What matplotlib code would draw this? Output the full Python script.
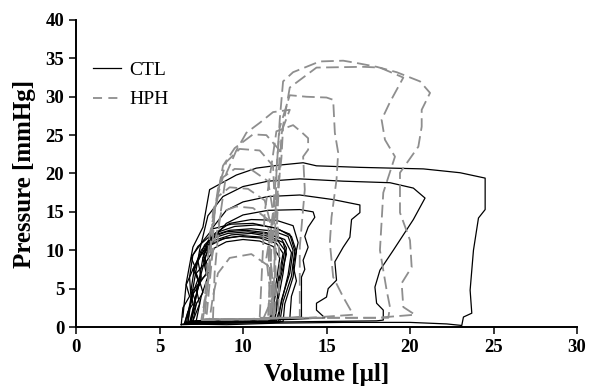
import matplotlib
matplotlib.use("Agg")
import matplotlib.pyplot as plt
from matplotlib.lines import Line2D

# ---------------- data ----------------
# CTL loops (volume [ul], pressure [mmHg])
ctl1_v = [6.4, 9, 12, 16, 20, 22.2, 23.1, 23.2, 23.7, 23.6, 23.8, 24.1, 24.5, 24.5, 23.0, 20.8, 17, 14.4, 13.6, 12.2, 10.8, 9.6, 8.0, 7.6, 7.0, 6.6, 6.4]
ctl1_p = [0.4, 0.3, 0.5, 0.6, 0.6, 0.4, 0.2, 1.3, 1.8, 4.8, 10, 14.2, 15.3, 19.4, 20.1, 20.6, 20.8, 21.0, 21.4, 21.1, 20.7, 19.8, 17.9, 13, 10.4, 5.7, 1.3]
ctl2_v = [6.6, 10, 14, 18, 18.4, 18.4, 18.0, 17.9, 18.2, 19.0, 20.2, 20.9, 20.2, 18.8, 16, 13.4, 11.5, 10, 8.8, 7.9, 7.4, 7.0, 6.7]
ctl2_p = [0.5, 0.6, 0.7, 0.8, 0.9, 2.2, 3.1, 5.2, 7.4, 10, 14, 16.8, 18.1, 18.8, 19.0, 19.3, 19.0, 18.3, 17, 14.5, 10, 5, 0.5]
ctl3_v = [6.8, 10, 13, 14.9, 14.4, 14.4, 15.0, 15.1, 15.6, 15.5, 16.0, 16.4, 16.5, 17.0, 17.0, 15.4, 13.4, 11.5, 10, 9.0, 8.2, 7.6, 7.2, 6.8]
ctl3_p = [0.6, 0.8, 1.0, 1.2, 2.2, 3.1, 3.9, 5.0, 6.1, 8.5, 10.4, 11.7, 14.0, 14.9, 15.9, 16.6, 17.2, 17.0, 16.3, 15.2, 13, 9, 4, 0.6]
ctl4_v = [6.9, 10, 13.5, 13.5, 13.7, 13.6, 13.9, 13.7, 13.9, 14.3, 14.2, 13.4, 11.5, 10, 9.0, 8.0, 7.5, 7.1, 6.9]
ctl4_p = [0.7, 0.9, 1.3, 6.5, 7.5, 8.7, 10.4, 11.8, 13, 14.3, 15, 15.3, 15.2, 14.6, 13.5, 11, 7, 3, 0.7]
ctl5_v = [7.0, 10, 12.8, 12.9, 13.2, 13.0, 13.3, 13.0, 12, 10.5, 9.2, 8.2, 7.6, 7.8, 7.2, 7.4, 7.0]
ctl5_p = [0.8, 1.0, 1.0, 4, 6, 8, 11, 13.2, 13.9, 14.0, 13.5, 12, 9, 7, 5, 3, 0.8]
ctl6_v = [6.5, 9, 11.9, 12.0, 12.2, 12.6, 12.4, 11.6, 10.5, 9.3, 8.3, 7.6, 7.8, 7.2, 7.4, 6.9, 7.0, 6.7, 6.5]
ctl6_p = [0.5, 0.7, 0.8, 3, 6, 9.5, 11, 11.8, 12.2, 12.0, 11.3, 9.5, 8.5, 7, 5.8, 4.5, 3, 2, 0.5]
ctl7_v = [6.7, 9, 11.8, 11.9, 12.3, 12.5, 12.1, 11.2, 10, 9, 8.0, 7.4, 7.0, 7.3, 7.1, 6.8, 6.7]
ctl7_p = [0.6, 0.8, 0.9, 4, 7.5, 10, 11.2, 11.7, 11.9, 11.6, 10.8, 9.2, 7.5, 6.2, 5, 2.5, 0.6]
ctl8_v = [6.3, 9, 12.1, 12.3, 12.8, 13.0, 12.7, 11.8, 10.5, 9.2, 8.0, 7.3, 6.9, 7.1, 6.6, 6.8, 6.4, 6.3]
ctl8_p = [0.3, 0.5, 0.6, 3.5, 7, 10, 11.8, 12.5, 12.8, 12.6, 11.8, 10.5, 9, 8, 5.5, 4, 2.5, 0.3]
ctl9_v = [7.0, 9, 11.6, 11.8, 12.0, 12.2, 11.8, 11, 10, 9, 8.3, 7.8, 8.0, 7.4, 7.6, 7.2, 7.0]
ctl9_p = [0.7, 0.9, 1.0, 3, 6, 9, 10.5, 11.2, 11.4, 11.1, 10.3, 8.5, 7.2, 6, 4.5, 3, 0.7]
ctl10_v = [6.6, 9, 12.4, 12.5, 13.0, 13.2, 12.9, 12.0, 10.8, 9.5, 8.4, 7.7, 7.1, 7.4, 6.9, 6.6]
ctl10_p = [0.4, 0.6, 0.7, 3, 6.5, 9.8, 11.8, 12.9, 13.3, 13.1, 12.3, 10.7, 7.5, 5.5, 4, 0.4]
ctl11_v = [6.8, 9, 11.9, 12.1, 12.4, 12.6, 12.3, 11.5, 10.3, 9.1, 8.1, 7.5, 7.1, 6.9, 7.2, 6.8]
ctl11_p = [0.5, 0.7, 0.8, 3.5, 7, 10.3, 11.5, 12.1, 12.4, 12.2, 11.5, 10, 7.8, 5, 3, 0.5]
ctl12_v = [6.9, 9, 12.0, 12.3, 12.7, 12.9, 12.5, 11.4, 10.2, 9.0, 8.0, 7.7, 7.3, 7.5, 7.1, 6.9]
ctl12_p = [0.6, 0.7, 0.8, 3.2, 6.8, 9.7, 11.4, 12.3, 12.6, 12.4, 11.6, 10.2, 8.6, 6.5, 3.5, 0.6]
ctl13_v = [7.2, 9, 11.7, 11.9, 12.2, 12.4, 12.0, 11.0, 9.8, 8.8, 8.1, 7.7, 7.9, 7.5, 7.2]
ctl13_p = [0.8, 0.9, 1.0, 3.8, 7.2, 9.6, 10.9, 11.6, 11.8, 11.5, 10.7, 9.0, 6.6, 4.0, 0.8]
ctl14_v = [6.5, 9, 12.2, 12.4, 12.9, 13.1, 12.8, 11.9, 10.6, 9.3, 8.2, 7.6, 7.0, 6.8, 6.9, 6.5]
ctl14_p = [0.4, 0.5, 0.6, 3.3, 6.6, 9.9, 12.1, 12.9, 13.5, 13.4, 12.8, 11.2, 9.4, 6.5, 3.4, 0.4]

# HPH loops
hph1_v = [11.8, 15, 18, 20.3, 19.6, 19.5, 20.1, 20.0, 19.4, 19.4, 20.5, 20.7, 20.7, 21.2, 20.6, 19.2, 18.0, 16.8, 16.0, 14.6, 13.0, 12.4, 12.2, 12.0, 11.9, 11.8]
hph1_p = [1.2, 1.2, 1.2, 1.6, 2.6, 5.7, 7.8, 11.3, 14.9, 20.1, 23.5, 26.1, 28.3, 30.5, 32.0, 33.2, 33.9, 34.4, 34.7, 34.6, 33.2, 32.0, 27, 20, 10, 1.2]
hph2_v = [11.8, 15, 18.7, 18.8, 18.6, 18.2, 18.4, 19.1, 18.5, 18.3, 18.8, 19.6, 18.2, 17.2, 14.4, 12.8, 12.3, 12.0, 11.8]
hph2_p = [1.2, 1.2, 1.2, 2.6, 4.8, 10, 17.5, 22.2, 24.4, 27, 29.3, 32.5, 33.8, 33.9, 33.8, 31.2, 25, 12, 1.2]
hph3_v = [11.5, 14, 16.6, 16.0, 15.4, 15.2, 15.3, 15.6, 15.7, 15.5, 15.4, 15.0, 13.8, 12.8, 12.2, 11.8, 11.5]
hph3_p = [1.2, 1.2, 1.6, 3.9, 6.5, 11, 14.3, 19.2, 22.7, 25.3, 29.6, 29.9, 30.0, 30.2, 26, 15, 1.2]
hph4_v = [11.0, 13.4, 13.4, 13.7, 13.6, 13.9, 13.9, 13.5, 13.0, 12.0, 11.3, 11.0]
hph4_p = [1.2, 1.2, 10.4, 17.9, 22.2, 23.1, 24.6, 25.4, 26.3, 25.5, 15, 1.2]
hph5_v = [7.8, 10, 11.9, 12.0, 11.8, 12.1, 12.2, 11.4, 10.6, 9.5, 8.8, 8.3, 8.1, 7.8]
hph5_p = [1.0, 1.0, 1.2, 6, 12, 18, 23, 25.0, 25.1, 23.3, 21, 15, 8, 1.0]
hph6_v = [7.6, 10, 11.7, 11.8, 11.6, 11.9, 11.8, 11.0, 9.8, 9.0, 8.5, 8.1, 7.9, 7.6]
hph6_p = [1.0, 1.0, 1.1, 5, 10, 16, 21, 23.0, 23.2, 21.5, 18, 12, 6, 1.0]
hph7_v = [7.5, 10, 11.6, 11.7, 11.5, 11.8, 11.5, 10.5, 9.5, 8.8, 8.2, 8.0, 7.5]
hph7_p = [0.9, 1.0, 1.0, 5, 10, 15, 19, 20.5, 20.6, 19.5, 15, 7, 0.9]
hph8_v = [7.6, 10, 11.5, 11.6, 11.4, 11.7, 11.3, 10.3, 9.2, 8.5, 8.0, 7.8, 7.6]
hph8_p = [0.9, 1.0, 1.0, 5, 9, 13, 16.5, 18.0, 18.2, 17, 12, 6, 0.9]
hph9_v = [7.7, 10, 11.6, 11.8, 11.6, 11.5, 10.6, 9.6, 8.7, 8.3, 7.9, 7.7]
hph9_p = [1.0, 1.0, 1.1, 5, 10, 14, 15.5, 15.7, 15, 11, 6, 1.0]
hph10_v = [8.0, 9.5, 11.2, 11.8, 11.5, 10.5, 9.2, 8.5, 8.2, 8.0]
hph10_p = [1.0, 1.0, 1.0, 4, 8, 9.5, 9, 7, 4, 1.0]
hph11_v = [8.2, 10, 12.1, 12.2, 12.0, 12.3, 12.4, 12.8, 11.8, 11.0, 10.2, 9.6, 9.0, 8.6, 8.3, 8.2]
hph11_p = [1.0, 1.0, 1.1, 8, 16, 22, 26, 28.3, 28.0, 26.6, 25.3, 23.0, 20, 14, 7, 1.0]

series_labels = ["CTL", "HPH"]
x_ticks = [0, 5, 10, 15, 20, 25, 30]
y_ticks = [0, 5, 10, 15, 20, 25, 30, 35, 40]

ctl_loops = [(ctl1_v, ctl1_p), (ctl2_v, ctl2_p), (ctl3_v, ctl3_p), (ctl4_v, ctl4_p),
             (ctl5_v, ctl5_p), (ctl6_v, ctl6_p), (ctl7_v, ctl7_p), (ctl8_v, ctl8_p),
             (ctl9_v, ctl9_p), (ctl10_v, ctl10_p), (ctl11_v, ctl11_p),
             (ctl12_v, ctl12_p), (ctl13_v, ctl13_p), (ctl14_v, ctl14_p)]
hph_loops = [(hph1_v, hph1_p), (hph2_v, hph2_p), (hph3_v, hph3_p), (hph4_v, hph4_p),
             (hph5_v, hph5_p), (hph6_v, hph6_p), (hph7_v, hph7_p), (hph8_v, hph8_p),
             (hph9_v, hph9_p), (hph10_v, hph10_p), (hph11_v, hph11_p)]

# ---------------- styling ----------------
plt.rcParams['font.family'] = ['Liberation Serif', 'DejaVu Serif']
GREY = '#8e8e8e'

fig = plt.figure(figsize=(5.89, 3.87), dpi=100)
ax = fig.add_axes([76/589, 1-327/387, (577-76)/589, (327-20)/387])

for v, p in ctl_loops:
    ax.plot(v, p, color='black', lw=0.9, zorder=3)
for v, p in hph_loops:
    ax.plot(v, p, color=GREY, lw=1.3, linestyle=(0, (7, 3)), zorder=4)

ax.set_xlim(0, 30)
ax.set_ylim(0, 40)
ax.set_xticks(x_ticks)
ax.set_yticks(y_ticks)
for s in ['top', 'right']:
    ax.spines[s].set_visible(False)
for s in ['left', 'bottom']:
    ax.spines[s].set_linewidth(1.4)
ax.tick_params(direction='out', length=5, width=1.1, labelsize=13.5, pad=3.5)
for lab in ax.get_xticklabels() + ax.get_yticklabels():
    lab.set_fontweight('bold')

ax.set_xlabel("Volume [\u03bcl]", fontsize=18, fontweight='bold', labelpad=5)
ax.set_ylabel("Pressure [mmHg]", fontsize=18, fontweight='bold', labelpad=7)

handles = [Line2D([], [], color='black', lw=0.9),
           Line2D([], [], color=GREY, lw=1.3, linestyle=(0, (5, 3.5)))]
leg = ax.legend(handles, series_labels, loc='upper left', bbox_to_anchor=(0.018, 0.89),
                frameon=False, fontsize=14, handlelength=1.45, handletextpad=0.45,
                labelspacing=0.6, borderaxespad=0)

fig.savefig("out.png", dpi=100)
